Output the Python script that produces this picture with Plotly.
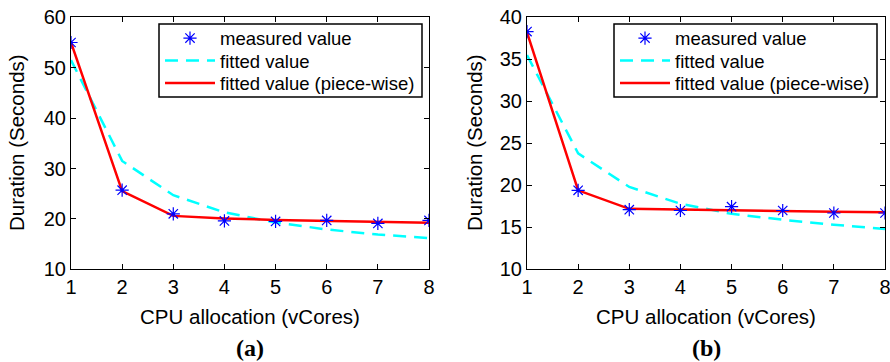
import plotly.graph_objects as go

cores = [1, 2, 3, 4, 5, 6, 7, 8]

measured_a = [55.0, 25.7, 21.0, 19.6, 19.5, 19.7, 19.1, 19.7]
fitted_a = [51.5, 31.5, 24.7, 21.3, 19.3, 17.9, 16.9, 16.2]
piecewise_a = [55.0, 25.5, 20.6, 20.1, 19.8, 19.6, 19.4, 19.25]

measured_b = [38.3, 19.4, 17.1, 17.0, 17.45, 17.0, 16.7, 16.7]
fitted_b = [35.5, 23.8, 19.8, 17.8, 16.6, 15.9, 15.3, 14.8]
piecewise_b = [38.2, 19.4, 17.2, 17.1, 17.0, 16.9, 16.85, 16.8]

yticks_a = [10, 20, 30, 40, 50, 60]
yticks_b = [10, 15, 20, 25, 30, 35, 40]

names = ["measured value", "fitted value", "fitted value (piece-wise)"]
xtitle = "CPU allocation (vCores)"
ytitle = "Duration (Seconds)"
FONT = "Liberation Sans, Arial, sans-serif"
SERIF = "Liberation Serif, Times New Roman, serif"

W, H = 890, 362

fig = go.Figure()


def add_panel(meas, fit, pw, xa, ya, legs):
    fig.add_trace(go.Scatter(x=cores, y=fit, mode="lines", name=names[1],
                             line=dict(color="#00ffff", width=2.5, dash="13px,8px"),
                             xaxis=xa, yaxis=ya, legend=legs[1], showlegend=True))
    fig.add_trace(go.Scatter(x=cores, y=pw, mode="lines", name=names[2],
                             line=dict(color="#ff0000", width=2.5),
                             xaxis=xa, yaxis=ya, legend=legs[2], showlegend=True))
    fig.add_trace(go.Scatter(x=cores, y=meas, mode="markers", name=names[0],
                             marker=dict(symbol="asterisk-open", size=11, color="#0000ff",
                                         line=dict(color="#0000ff", width=1.2)),
                             xaxis=xa, yaxis=ya, legend=legs[0], showlegend=True))


add_panel(measured_a, fitted_a, piecewise_a, "x", "y", ["legend", "legend2", "legend3"])
add_panel(measured_b, fitted_b, piecewise_b, "x2", "y2", ["legend4", "legend5", "legend6"])

ydom = [1 - 269.3 / H, 1 - 17.3 / H]
axis_common = dict(showline=True, linecolor="black", linewidth=1, mirror="ticks",
                   ticks="inside", ticklen=5, tickcolor="black", showgrid=False,
                   zeroline=False, automargin=False, ticklabeloverflow="allow",
                   tickfont=dict(family=FONT, size=20, color="black"))
title_font = dict(family=FONT, size=20.5, color="black")
leg_common = dict(xanchor="left", yanchor="middle", borderwidth=0,
                  bgcolor="rgba(0,0,0,0)", font=dict(family=FONT, size=18.5, color="black"),
                  itemwidth=50)

row_y = [38.5, 61, 83.5]
box_a = (159, 422)
box_b = (614, 877)
box_y = (24, 97)

legends = {}
for i, yy in enumerate(row_y):
    legends["legend" if i == 0 else f"legend{i + 1}"] = dict(x=(box_a[0] + 1) / W, y=1 - yy / H, **leg_common)
    legends[f"legend{i + 4}"] = dict(x=(box_b[0] + 1) / W, y=1 - yy / H, **leg_common)


def ann(text, x, y, font, angle=0):
    return dict(text=text, x=x / W, y=1 - y / H, xref="paper", yref="paper",
                xanchor="center", yanchor="middle", showarrow=False, textangle=angle,
                font=font)


def box(x0, x1):
    return dict(type="rect", xref="paper", yref="paper", x0=x0 / W, x1=x1 / W,
                y0=1 - box_y[1] / H, y1=1 - box_y[0] / H, layer="above",
                line=dict(color="black", width=1.5), fillcolor="white")


fig.update_layout(
    width=W, height=H,
    showlegend=True,
    margin=dict(l=0, r=0, t=0, b=0, autoexpand=False),
    paper_bgcolor="white", plot_bgcolor="white",
    font=dict(family=FONT, size=19, color="black"),
    xaxis=dict(domain=[71 / W, 429 / W], range=[1, 8], tickvals=cores, **axis_common),
    yaxis=dict(domain=ydom, range=[10, 60], tickvals=yticks_a, **axis_common),
    xaxis2=dict(domain=[527 / W, 885 / W], range=[1, 8], tickvals=cores, anchor="y2",
                **axis_common),
    yaxis2=dict(domain=ydom, range=[10, 40], tickvals=yticks_b, anchor="x2",
                **axis_common),
    shapes=[box(*box_a), box(*box_b)],
    annotations=[
        ann(xtitle, 250, 316, title_font),
        ann(xtitle, 706, 316, title_font),
        ann(ytitle, 17, 143, title_font, -90),
        ann(ytitle, 475, 143, title_font, -90),
        ann("<b>(a)</b>", 250, 348, dict(family=SERIF, size=24, color="black")),
        ann("<b>(b)</b>", 706, 348, dict(family=SERIF, size=24, color="black")),
    ],
    **legends,
)

fig.write_html("out.html")
